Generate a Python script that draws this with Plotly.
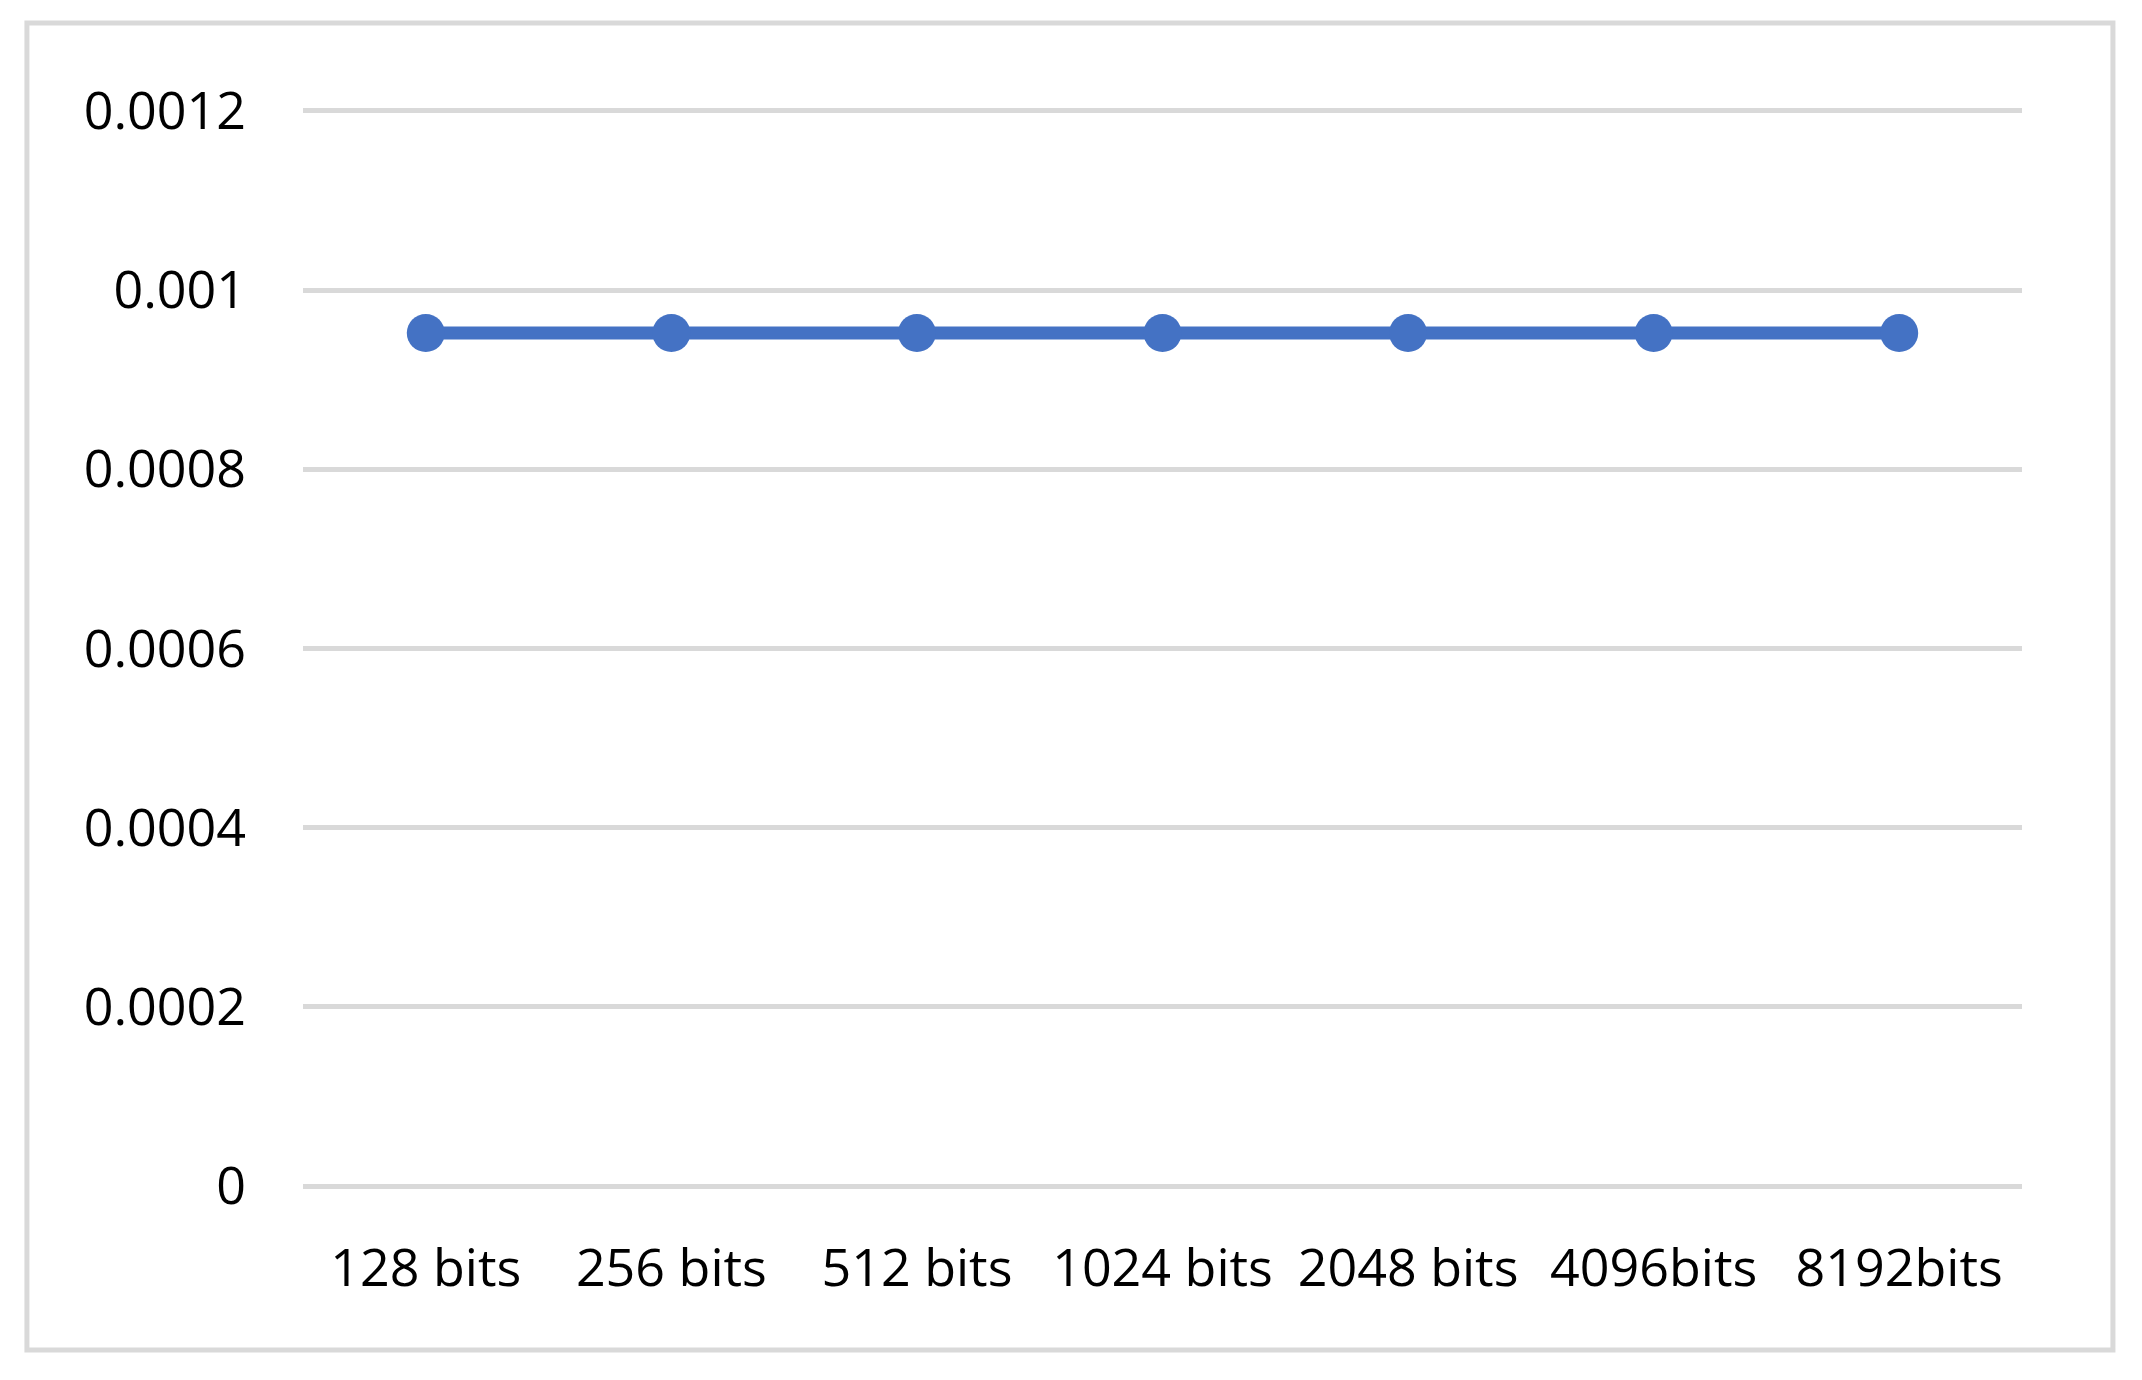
import plotly.graph_objects as go

# categorias (tamaño de clave) y tiempo medido
claves = ["128 bits", "256 bits", "512 bits", "1024 bits", "2048 bits", "4096bits", "8192bits"]
tiempos = [0.000952, 0.000952, 0.000952, 0.000952, 0.000952, 0.000952, 0.000952]
ticks_y = [0, 0.0002, 0.0004, 0.0006, 0.0008, 0.001, 0.0012]
labels_y = ["0", "0.0002", "0.0004", "0.0006", "0.0008", "0.001", "0.0012"]

AZUL = "#4472C4"
GRIS = "#D9D9D9"

fig = go.Figure()
fig.add_trace(go.Scatter(
    x=claves, y=tiempos, mode="lines+markers",
    line=dict(color=AZUL, width=13),
    marker=dict(color=AZUL, size=38),
    showlegend=False,
))

fig.update_layout(
    width=2142, height=1380,
    margin=dict(l=295, r=128, t=101, b=200),  # la pagina agrega 8px de margen
    paper_bgcolor="white", plot_bgcolor="white",
    font=dict(family="Open Sans", size=52, color="black"),
    # marco gris alrededor de todo el grafico
    shapes=[dict(type="rect", xref="paper", yref="paper",
                 x0=-0.1606, x1=1.0529, y0=-0.1501, y1=1.0797,
                 line=dict(color=GRIS, width=5), layer="below")],
)
fig.update_xaxes(
    type="category", range=[-0.5, 6.5],
    showgrid=False, zeroline=False, showline=False,
    ticks="", ticklabelstandoff=45,
)
# rango apenas mas grande para que se vean las lineas de 0 y 0.0012
fig.update_yaxes(
    range=[-0.000002, 0.001202], tickvals=ticks_y, ticktext=labels_y,
    showgrid=True, gridcolor=GRIS, gridwidth=5,
    zeroline=False, showline=False, ticks="", ticklabelstandoff=56,
)

fig.write_html("out.html")
